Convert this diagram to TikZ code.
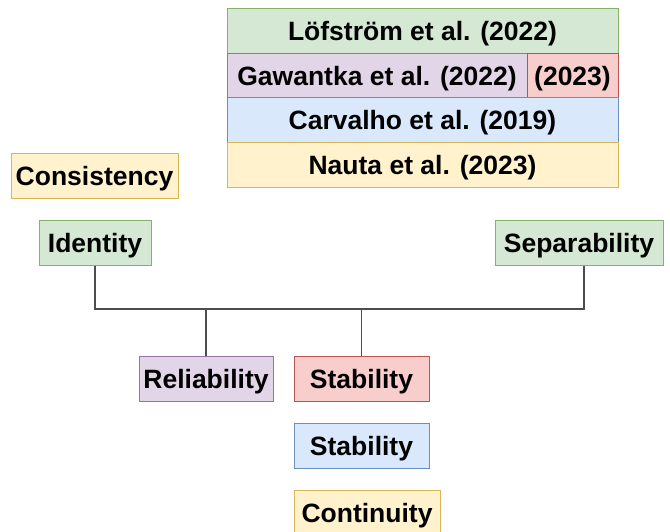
\documentclass[tikz,border=0pt]{standalone}
\usepackage{fontspec}
\setmainfont{Liberation Sans}
\usetikzlibrary{positioning,calc}

\definecolor{greenfill}{HTML}{D5E8D4}
\definecolor{greenline}{HTML}{82B366}
\definecolor{purplefill}{HTML}{E1D5E7}
\definecolor{purpleline}{HTML}{9673A6}
\definecolor{redfill}{HTML}{F8CECC}
\definecolor{redline}{HTML}{B85450}
\definecolor{bluefill}{HTML}{DAE8FC}
\definecolor{blueline}{HTML}{6C8EBF}
\definecolor{yellowfill}{HTML}{FFF2CC}
\definecolor{yellowline}{HTML}{D6B656}
\definecolor{linkgray}{HTML}{4D4D4D}

\begin{document}
\begin{tikzpicture}
  [
  x=1pt, y=-1pt, line width=1pt,
  font=\fontsize{26.5}{30}\selectfont\bfseries,
  propbox/.style={rectangle, minimum height=45pt, inner sep=0pt, text height=19pt, text depth=0pt},
  greenbox/.style={propbox, draw=greenline, fill=greenfill},
  purplebox/.style={propbox, draw=purpleline, fill=purplefill},
  redbox/.style={propbox, draw=redline, fill=redfill},
  bluebox/.style={propbox, draw=blueline, fill=bluefill},
  yellowbox/.style={propbox, draw=yellowline, fill=yellowfill},
  link/.style={draw=linkgray, line width=1.3pt}
  ]
\useasboundingbox (0,0) rectangle (670,531);

% papers
\node[greenbox, minimum width=391pt] (loef) at (422.5,30.5) {Löfström et al. (2022)};
\node[purplebox, minimum width=300pt] (gaw) at (377,75.5) {Gawantka et al. (2022)};
\node[redbox, minimum width=91pt] (gaw23) at (572.5,75.5) {(2023)};
\node[bluebox, minimum width=391pt] (carv) at (422.5,120) {Carvalho et al. (2019)};
\node[yellowbox, minimum width=391pt] (nauta) at (422.5,164.5) {Nauta et al. (2023)};

% properties
\node[yellowbox, minimum width=167pt] (cons) at (94.5,175.5) {Consistency};
\node[greenbox, minimum width=112pt] (ident) at (95,242.5) {Identity};
\node[greenbox, minimum width=168pt] (sep) at (579,242.5) {Separability};
\node[purplebox, minimum width=134pt] (rel) at (206,379) {Reliability};
\node[redbox, minimum width=135pt] (stab) at (361.5,379) {Stability};
\node[bluebox, minimum width=135pt] (stabb) at (361.5,446) {Stability};
\node[yellowbox, minimum width=146pt] (cont) at (367,512.5) {Continuity};

\coordinate (bus) at (0,309);
\draw[link] (ident.south) -- (ident.south |- bus) -| ([xshift=5pt]sep.south);
\draw[link] (rel.north) -- (rel.north |- bus);
\draw[link] (stab.north) -- (stab.north |- bus);
\end{tikzpicture}
\end{document}
